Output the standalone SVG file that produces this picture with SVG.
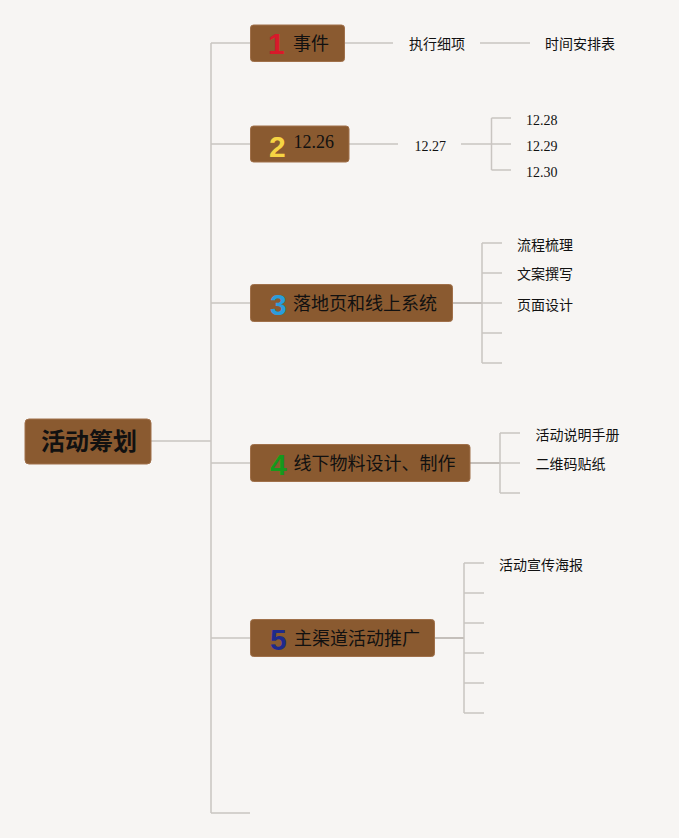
<svg xmlns="http://www.w3.org/2000/svg" width="679" height="838" viewBox="0 0 679 838">
<style>
.node{fill:#8a5a30;stroke:#a0704a;stroke-width:1}
.t{font-family:"Noto Sans CJK SC","Noto Sans",sans-serif;fill:#111}
.big{font-size:18px}
.sm{font-size:14px}
.root{font-size:24px;font-weight:bold}
.num{font-family:"Liberation Sans",Arial,sans-serif;font-weight:bold;font-size:30px}
.ser{font-family:"Liberation Serif","Times New Roman",serif;fill:#111}
.ln{stroke:#c9c5c1;stroke-width:1.5;fill:none}
.ln2{stroke:#b3aca7;stroke-width:1.5;fill:none}
</style>
<rect x="0" y="0" width="679" height="838" fill="#f7f5f3"/>
<g id="connectors">
<path class="ln" d="M151 441H211M211 43V813M211 43H250M211 144H250M211 303H250M211 463H250M211 638H250M211 813H250"/>
<path class="ln" d="M344 43H393M480 43H530"/>
<path class="ln" d="M349 144H398M461 144H511M491.5 118V170M491.5 118H511M491.5 170H511"/>
<path class="ln2" d="M452 303H482"/>
<path class="ln" d="M482 243V363M482 243H502M482 273H502M482 303H502M482 333H502M482 363H502"/>
<path class="ln2" d="M470 463H500"/>
<path class="ln" d="M500 433V493M500 433H520M500 463H520M500 493H520"/>
<path class="ln2" d="M434 638H464"/>
<path class="ln" d="M464 563V713M464 563H484M464 593H484M464 623H484M464 653H484M464 683H484M464 713H484"/>
</g>
<g id="root">
<rect class="node" x="25" y="419" width="126" height="45" rx="4"/>
<text class="t root" x="41" y="450">活动筹划</text>
</g>
<g id="n1">
<rect class="node" x="250.5" y="25" width="94" height="36.5" rx="3"/>
<text class="num" x="268" y="54" fill="#d8192a">1</text>
<text class="t big" x="293" y="50">事件</text>
</g>
<g id="n1a"><text class="t sm" x="409" y="49">执行细项</text></g>
<g id="n1b"><text class="t sm" x="545" y="49">时间安排表</text></g>
<g id="n2">
<rect class="node" x="250.5" y="126" width="98.5" height="36" rx="3"/>
<text class="num" x="269" y="156.5" fill="#f6d443">2</text>
<text class="ser" x="293.5" y="148" font-size="18">12.26</text>
</g>
<g id="n2a"><text class="ser" x="414.5" y="151" font-size="14">12.27</text></g>
<g id="n2b"><text class="ser" x="526" y="125" font-size="14">12.28</text></g>
<g id="n2c"><text class="ser" x="526" y="151" font-size="14">12.29</text></g>
<g id="n2d"><text class="ser" x="526" y="176.5" font-size="14">12.30</text></g>
<g id="n3">
<rect class="node" x="250.5" y="284.5" width="202" height="37" rx="3"/>
<text class="num" x="270" y="314.5" fill="#2a9ddb">3</text>
<text class="t big" x="293" y="309.5">落地页和线上系统</text>
</g>
<g id="n3a"><text class="t sm" x="517" y="249.5">流程梳理</text></g>
<g id="n3b"><text class="t sm" x="517" y="279">文案撰写</text></g>
<g id="n3c"><text class="t sm" x="517" y="310">页面设计</text></g>
<g id="n4">
<rect class="node" x="250.5" y="444.5" width="219.5" height="37" rx="3"/>
<text class="num" x="270" y="474.5" fill="#16991c">4</text>
<text class="t big" x="293.5" y="469.5">线下物料设计、制作</text>
</g>
<g id="n4a"><text class="t sm" x="535.5" y="440">活动说明手册</text></g>
<g id="n4b"><text class="t sm" x="535.5" y="469">二维码贴纸</text></g>
<g id="n5">
<rect class="node" x="250.5" y="619.5" width="184" height="37" rx="3"/>
<text class="num" x="270" y="649.5" fill="#1f2a8c">5</text>
<text class="t big" x="294" y="644.5">主渠道活动推广</text>
</g>
<g id="n5a"><text class="t sm" x="499" y="569.5">活动宣传海报</text></g>
</svg>
